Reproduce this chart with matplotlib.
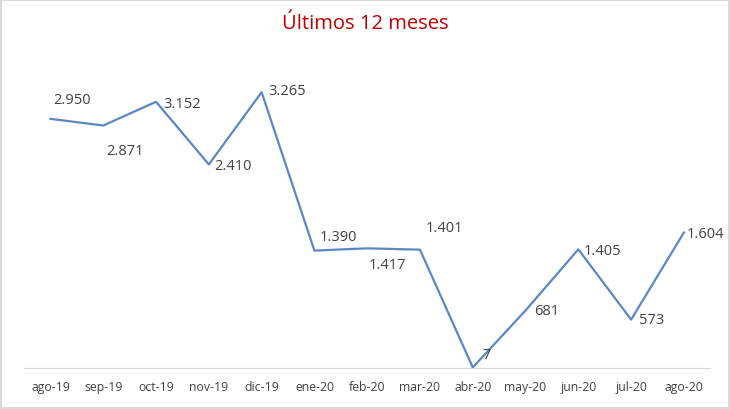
import matplotlib.pyplot as plt
import numpy as np

# data
months = ["ago-19", "sep-19", "oct-19", "nov-19", "dic-19", "ene-20", "feb-20",
          "mar-20", "abr-20", "may-20", "jun-20", "jul-20", "ago-20"]
values = [2950, 2871, 3152, 2410, 3265, 1390, 1417, 1401, 7, 681, 1405, 573, 1604]
labels = ["2.950", "2.871", "3.152", "2.410", "3.265", "1.390", "1.417",
          "1.401", "7", "681", "1.405", "573", "1.604"]

# label offsets in points (dx, dy) relative to each point
offsets = [(2, 14), (2, -18), (5, -1), (4, -1), (5, 1), (4, 10), (1, -12),
           (4, 16), (7, 9), (6, 0), (4, -1), (6, 0), (2, -1)]

plt.rcParams["font.family"] = ["Open Sans", "DejaVu Sans"]

fig = plt.figure(figsize=(7.3, 4.1), dpi=100)
fig.patch.set_edgecolor("#d9d9d9")
fig.patch.set_linewidth(1.5)
ax = fig.add_axes([0.033, 0.1, 0.94, 0.824])

x = np.arange(len(months))
ax.plot(x, values, color="#5b88c4", linewidth=1.6)

for xi, v, lab, (dx, dy) in zip(x, values, labels, offsets):
    ax.annotate(lab, (xi, v), xytext=(dx, dy), textcoords="offset points",
                ha="left", va="center", fontsize=10.5, color="#404048")

ax.set_xlim(-0.5, len(months) - 0.5)
ax.set_ylim(0, 4000)
ax.set_xticks(x)
ax.set_xticklabels(months, fontsize=8.8, color="#404048")
ax.set_yticks([])
ax.tick_params(axis="x", length=0, pad=9)
for side in ["top", "right", "left"]:
    ax.spines[side].set_visible(False)
ax.spines["bottom"].set_color("#d9d9d9")

fig.suptitle("Últimos 12 meses", y=0.965, fontsize=14.5, color="#c00000")

fig.savefig("out.png", dpi=100, edgecolor=fig.get_edgecolor())
